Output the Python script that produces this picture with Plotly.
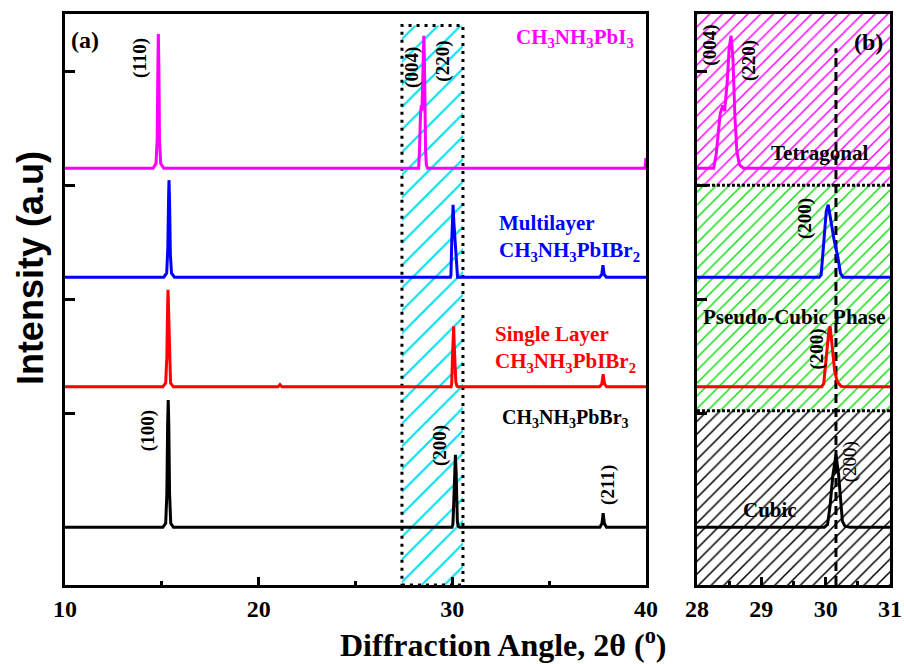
import plotly.graph_objects as go

# ---- XRD patterns (2θ in degrees, offset intensity in arbitrary units) ----
MAPI_ANGLE = [10, 14.55, 14.70, 14.76, 14.80, 14.82, 14.85, 14.88, 14.94, 15.10,
              28.26, 28.30, 28.36, 28.40, 28.43, 28.47, 28.50, 28.53, 28.56, 28.59,
              28.62, 28.66, 28.72, 39.95, 40]
MAPI_INT = [73.0, 73.0, 73.8, 78.0, 92.0, 96.5, 90.0, 78.0, 73.8, 73.0,
            73.0, 75.5, 82.5, 84.0, 83.0, 88.0, 94.0, 96.2, 92.0, 82.0,
            76.0, 73.6, 73.0, 73.0, 74.8]

MULTI_ANGLE = [10, 15.10, 15.25, 15.31, 15.35, 15.37, 15.40, 15.44, 15.50, 15.65,
               29.90, 29.93, 29.97, 30.01, 30.04, 30.08, 30.13, 30.19, 30.23, 30.27,
               37.60, 37.72, 37.78, 37.84, 37.95, 40]
MULTI_INT = [53.9, 53.9, 54.6, 59.0, 68.0, 70.9, 67.0, 58.0, 54.6, 53.9,
             53.9, 54.3, 60.0, 65.5, 66.6, 63.5, 60.5, 57.4, 54.6, 53.9,
             53.9, 54.4, 56.0, 54.4, 53.9, 53.9]

SINGLE_ANGLE = [10, 15.05, 15.20, 15.26, 15.30, 15.32, 15.35, 15.39, 15.45, 15.60,
                21.00, 21.10, 21.20,
                29.94, 29.97, 30.01, 30.05, 30.07, 30.10, 30.14, 30.18, 30.24, 30.30,
                37.60, 37.72, 37.79, 37.86, 37.97, 40]
SINGLE_INT = [34.7, 34.7, 35.4, 40.0, 49.0, 51.7, 48.0, 40.0, 35.4, 34.7,
              34.7, 35.1, 34.7,
              34.7, 35.3, 40.0, 44.5, 45.3, 42.0, 37.5, 35.6, 34.8, 34.7,
              34.7, 35.2, 36.9, 35.2, 34.7, 34.7]

MAPBBR_ANGLE = [10, 15.05, 15.20, 15.26, 15.30, 15.33, 15.36, 15.40, 15.46, 15.60,
                29.98, 30.03, 30.07, 30.11, 30.16, 30.20, 30.23, 30.26, 30.30, 30.38,
                37.62, 37.73, 37.79, 37.85, 37.96, 40]
MAPBBR_INT = [10.1, 10.1, 10.8, 16.0, 28.0, 32.4, 28.0, 16.0, 10.8, 10.1,
              10.1, 10.6, 14.0, 19.0, 22.8, 19.5, 14.5, 11.2, 10.3, 10.1,
              10.1, 10.8, 12.6, 10.8, 10.1, 10.1]

# shaded 2θ window in panel (a) and phase bands in panel (b)
WINDOW_ANGLE = [27.4, 30.55]
WINDOW_TOP = 98.0
PHASE_BOUNDS = [0, 30.5, 70, 100]          # Cubic | Pseudo-Cubic | Tetragonal
PHASE_NAMES = ["Cubic", "Pseudo-Cubic Phase", "Tetragonal"]
REF_ANGLE = 30.16                           # dashed reference line in (b)

SERIES = [
    (MAPI_ANGLE, MAPI_INT, "#ff00ff"),
    (MULTI_ANGLE, MULTI_INT, "#0000ff"),
    (SINGLE_ANGLE, SINGLE_INT, "#ff0000"),
    (MAPBBR_ANGLE, MAPBBR_INT, "#000000"),
]

SERIF = "Liberation Serif"
SANS = "Liberation Sans"

fig = go.Figure()

# --- panel (a): hatched 2θ window ---
x0, x1 = WINDOW_ANGLE
fig.add_trace(go.Scatter(
    x=[x0, x1, x1, x0, x0], y=[0, 0, WINDOW_TOP, WINDOW_TOP, 0],
    fill="toself", fillcolor="rgba(0,0,0,0)",
    fillpattern=dict(shape="/", fgcolor="#00e0f0", fgopacity=1,
                     bgcolor="rgba(0,0,0,0)", size=16, solidity=0.13),
    line=dict(color="black", width=3, dash="3px,5px"),
    mode="lines", xaxis="x", yaxis="y", hoverinfo="skip"))

# --- panel (b): hatched phase bands ---
band_colors = ["#000000", "#11dd11", "#ff00ff"]
for i, col in enumerate(band_colors):
    lo, hi = PHASE_BOUNDS[i], PHASE_BOUNDS[i + 1]
    fig.add_trace(go.Scatter(
        x=[28, 31, 31, 28, 28], y=[lo, lo, hi, hi, lo],
        fill="toself", fillcolor="rgba(0,0,0,0)",
        fillpattern=dict(shape="/", fgcolor=col, fgopacity=1,
                         bgcolor="rgba(0,0,0,0)", size=9, solidity=0.17),
        line=dict(width=0), mode="lines", xaxis="x2", yaxis="y2", hoverinfo="skip"))

for b in PHASE_BOUNDS[1:3]:
    fig.add_trace(go.Scatter(
        x=[28, 31], y=[b, b], mode="lines",
        line=dict(color="black", width=3, dash="3px,2px"),
        xaxis="x2", yaxis="y2", hoverinfo="skip"))

fig.add_trace(go.Scatter(
    x=[REF_ANGLE, REF_ANGLE], y=[0, 94], mode="lines",
    line=dict(color="black", width=3, dash="9px,5px"),
    xaxis="x2", yaxis="y2", hoverinfo="skip"))

# --- XRD curves in both panels ---
for ang, inten, col in SERIES:
    for xa, ya in (("x", "y"), ("x2", "y2")):
        fig.add_trace(go.Scatter(
            x=ang, y=inten, mode="lines",
            line=dict(color=col, width=3, shape="linear"),
            xaxis=xa, yaxis=ya, hoverinfo="skip"))

# --- text labels ---
def label(text, x, y, xref="x", yref="y", size=20, color="black", angle=0,
          xanchor="center", yanchor="middle", align="center", weight="bold",
          family=SERIF):
    fig.add_annotation(text=text, x=x, y=y, xref=xref, yref=yref,
                       showarrow=False, textangle=angle,
                       xanchor=xanchor, yanchor=yanchor, align=align,
                       font=dict(family=family, size=size, color=color,
                                 weight=weight))

label("(a)", 11.03, 95.4, size=24)
label("(110)", 13.87, 92.3, angle=-90, size=19)
label("(004)", 27.91, 90.7, angle=-90, size=19)
label("(220)", 29.51, 91.8, angle=-90, size=19)
label("(100)", 14.28, 27.1, angle=-90, size=19)
label("(200)", 29.36, 24.5, angle=-90, size=19)
label("(211)", 38.03, 17.5, angle=-90, size=19)

label("CH<sub>3</sub>NH<sub>3</sub>PbI<sub>3</sub>", 39.5, 95.8,
      color="#ff00ff", xanchor="right", size=21)
label("Multilayer<br>CH<sub>3</sub>NH<sub>3</sub>PbIBr<sub>2</sub>", 32.3, 60.7,
      color="#0000ff", xanchor="left", align="left", size=21)
label("Single Layer<br>CH<sub>3</sub>NH<sub>3</sub>PbIBr<sub>2</sub>", 32.1, 41.4,
      color="#ff0000", xanchor="left", align="left", size=21)
label("CH<sub>3</sub>NH<sub>3</sub>PbBr<sub>3</sub>", 32.46, 29.2, xanchor="left",
      size=20)

label("(b)", 30.66, 95.1, xref="x2", yref="y2", size=24)
label("(004)", 28.20, 94.6, xref="x2", yref="y2", angle=-90, size=19)
label("(220)", 28.82, 91.9, xref="x2", yref="y2", angle=-90, size=19)
label("(200)", 29.68, 64.1, xref="x2", yref="y2", angle=-90, size=19)
label("(200)", 29.87, 41.3, xref="x2", yref="y2", angle=-90, size=19)
label("(200)", 30.38, 21.5, xref="x2", yref="y2", angle=-90, size=19,
      weight="normal")
label(PHASE_NAMES[2], 29.90, 75.7, xref="x2", yref="y2", size=21)
label(PHASE_NAMES[1], 29.52, 46.9, xref="x2", yref="y2", size=21)
label(PHASE_NAMES[0], 29.13, 13.1, xref="x2", yref="y2", size=21)

# axis titles
label("Diffraction Angle, 2θ (<sup>o</sup>)", 0.532, -0.102,
      xref="paper", yref="paper", size=32)
label("Intensity (a.u)", -0.0424, 0.555, xref="paper", yref="paper",
      size=36, angle=-90, family=SANS)

tick_font = dict(family=SERIF, size=24, color="black", weight="bold")
common_x = dict(showline=True, linewidth=3, linecolor="black", mirror=True,
                ticks="inside", ticklen=8, tickwidth=3, tickcolor="black",
                showgrid=False, zeroline=False, tickfont=tick_font,
                automargin=False)
common_y = dict(showline=True, linewidth=3, linecolor="black", mirror=True,
                ticks="inside", ticklen=10, tickwidth=3, tickcolor="black",
                showgrid=False, zeroline=False, showticklabels=False,
                range=[0, 100], tickvals=[30, 50, 70, 90], automargin=False)

fig.update_layout(
    width=904, height=664,
    margin=dict(l=65, r=14, t=14, b=79, autoexpand=False),
    paper_bgcolor="white", plot_bgcolor="white",
    showlegend=False,
    xaxis=dict(domain=[0, 0.7042], range=[10, 40], tickvals=[10, 20, 30, 40],
               minor=dict(tickvals=[15, 25, 35], ticks="inside", ticklen=4,
                          tickwidth=3, tickcolor="black"),
               anchor="y", **common_x),
    yaxis=dict(domain=[0, 1], anchor="x", **common_y),
    xaxis2=dict(domain=[0.766, 1], range=[28, 31], tickvals=[28, 29, 30, 31],
                minor=dict(tickvals=[28.5, 29.5, 30.5], ticks="inside", ticklen=4,
                           tickwidth=3, tickcolor="black"),
                anchor="y2", **common_x),
    yaxis2=dict(domain=[0, 1], anchor="x2", **common_y),
)

fig.write_html("out.html")
